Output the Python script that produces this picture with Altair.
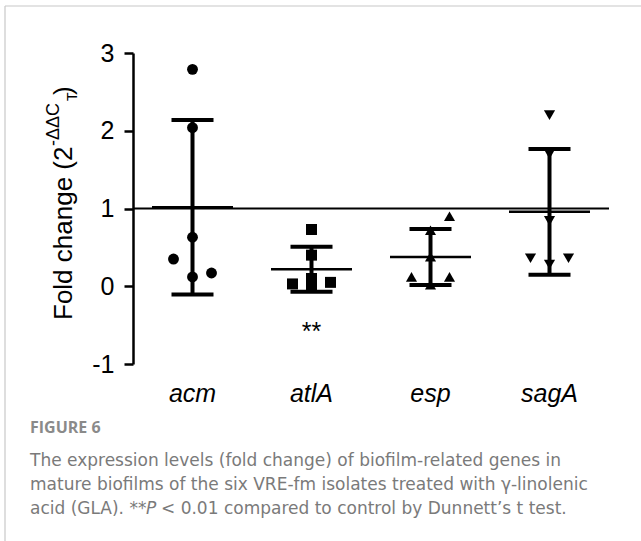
import altair as alt
import pandas as pd

# ---- data ----
genes = ["acm", "atlA", "esp", "sagA"]
acm_vals = [2.79, 2.04, 0.63, 0.35, 0.12, 0.17]
acm_cols = [0, 0, 0, -1, 0, 1]
atlA_vals = [0.73, 0.40, 0.10, 0.03, 0.05, 0.00]
atlA_cols = [0, 0, 0, -1, 1, 0]
esp_vals = [0.90, 0.72, 0.38, 0.12, 0.12, 0.02]
esp_cols = [1, 0, 0, -1, 1, 0]
sagA_vals = [2.20, 1.70, 0.84, 0.36, 0.36, 0.28]
sagA_cols = [0, 0, 0, -1, 1, 0]
y_ticks = [-1, 0, 1, 2, 3]
control_level = [1]
signif = [{"gene": "atlA", "mark": "**"}]

caption_head = "FIGURE 6"
caption_lines = [
    "The expression levels (fold change) of biofilm-related genes in",
    "mature biofilms of the six VRE-fm isolates treated with \u03b3-linolenic",
]
caption_last = ["acid (GLA). **", "P", "< 0.01 compared to control by Dunnett\u2019s t test."]

rows = []
for g, vals, cols in zip(genes,
                         [acm_vals, atlA_vals, esp_vals, sagA_vals],
                         [acm_cols, atlA_cols, esp_cols, sagA_cols]):
    for v, c in zip(vals, cols):
        rows.append({"gene": g, "value": v, "col": c})
df = pd.DataFrame(rows)

W, H = 476, 311
PL, PT = 133, 53
STEP = W / len(genes)
FONT = "Liberation Sans"
CAP_FONT = "DejaVu Sans"

xscale = alt.Scale(type="band", domain=genes, paddingInner=0, paddingOuter=0)
yscale = alt.Scale(domain=[-1, 3], nice=False, zero=False)

xaxis = alt.Axis(title=None, domain=False, ticks=False, labelFont=FONT,
                 labelFontSize=25, labelFontStyle="italic", labelColor="black",
                 labelPadding=17, labelAngle=0)
yaxis = alt.Axis(title=None, values=y_ticks, labelExpr="'' + datum.value",
                 domainColor="black", domainWidth=2.5, tickColor="black",
                 tickWidth=2.5, tickSize=9, labelFont=FONT, labelFontSize=25,
                 labelColor="black", labelPadding=10, grid=False)

X = alt.X("gene:N", scale=xscale, axis=xaxis, sort=genes)

base = alt.Chart(df)

points = base.mark_point(filled=True, opacity=1, color="black").encode(
    x=X,
    xOffset=alt.XOffset("col:Q", scale=alt.Scale(domain=[-1, 1],
                        range=[STEP / 2 - 19, STEP / 2 + 19])),
    y=alt.Y("value:Q", scale=yscale, axis=yaxis),
    shape=alt.Shape("gene:N", scale=alt.Scale(domain=genes,
                    range=["circle", "square", "triangle-up", "triangle-down"]), legend=None),
    size=alt.Size("gene:N", scale=alt.Scale(domain=genes, range=[118, 125, 95, 95]), legend=None),
)

stats = base.transform_aggregate(
    mean="mean(value)", sd="stdev(value)", groupby=["gene"]
).transform_calculate(lo="datum.mean - datum.sd", hi="datum.mean + datum.sd")

mean_tick = stats.mark_tick(size=81, thickness=2.5, color="black", opacity=1).encode(
    x=X, y=alt.Y("mean:Q", scale=yscale))
err_rule = stats.mark_rule(strokeWidth=4, color="black", opacity=1).encode(
    x=X, y=alt.Y("lo:Q", scale=yscale), y2="hi:Q")
cap_lo = stats.mark_tick(size=42, thickness=4, color="black", opacity=1).encode(
    x=X, y=alt.Y("lo:Q", scale=yscale))
cap_hi = stats.mark_tick(size=42, thickness=4, color="black", opacity=1).encode(
    x=X, y=alt.Y("hi:Q", scale=yscale))

ref = alt.Chart(pd.DataFrame({"v": control_level})).mark_rule(
    strokeWidth=2.2, color="black").encode(
    y=alt.Y("v:Q", scale=yscale), x=alt.value(0), x2=alt.value(W))

stars = alt.Chart(pd.DataFrame(signif)).mark_text(
    font=FONT, fontSize=25, color="black", align="center", baseline="alphabetic").encode(
    x=X, y=alt.value(340 - PT), text="mark:N")


def label(text, x, y, **kw):
    return alt.Chart(pd.DataFrame({"t": [text]})).mark_text(**kw).encode(
        text="t:N", x=alt.value(x - PL), y=alt.value(y - PT))


rot = dict(angle=270, align="left", baseline="alphabetic", color="black", font=FONT)
ytitle = [
    label("Fold change (2", 72, 320, fontSize=26, **rot),
    label("-\u0394\u0394C", 59, 146, fontSize=18, **rot),
    label("T", 77, 101, fontSize=14, **rot),
    label(")", 72, 95, fontSize=26, **rot),
]

CS = 17
capstyle = dict(align="left", baseline="alphabetic", font=CAP_FONT, color="#7a7a7a")
caption = [label(caption_head, 30, 433, fontSize=16, fontWeight="bold",
                 font="Open Sans", color="#8a8a8a", align="left", baseline="alphabetic")]
for i, ln in enumerate(caption_lines):
    caption.append(label(ln, 30, 466 + 24 * i, fontSize=CS, **capstyle))
caption.append(label(caption_last[0], 30, 514, fontSize=CS, **capstyle))
caption.append(label(caption_last[1], 30 + 116, 514, fontSize=CS, fontStyle="italic", **capstyle))
caption.append(label(caption_last[2], 30 + 131, 514, fontSize=CS, **capstyle))

border_df = pd.DataFrame({"k": [0]})
border_top = alt.Chart(border_df).mark_rule(color="#c8c8c8", strokeWidth=1.2).encode(
    x=alt.value(5 - PL), x2=alt.value(641 - PL), y=alt.value(6 - PT))
border_left = alt.Chart(border_df).mark_rule(color="#c8c8c8", strokeWidth=1.2).encode(
    x=alt.value(5 - PL), y=alt.value(6 - PT), y2=alt.value(541 - PT))

chart = alt.layer(
    border_top, border_left, ref, mean_tick, err_rule, cap_lo, cap_hi, points, stars,
    *ytitle, *caption
).properties(
    width=W, height=H,
    autosize=alt.AutoSizeParams(type="none"),
    padding={"left": PL, "top": PT, "right": 641 - PL - W, "bottom": 541 - PT - H},
    background="white",
).configure_view(stroke=None)

chart.save("out.html", embed_options={"renderer": "svg", "actions": False})
